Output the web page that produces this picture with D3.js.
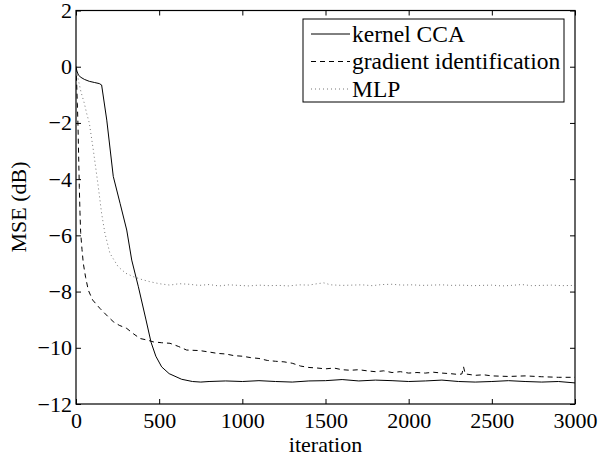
<!DOCTYPE html>
<html><head><meta charset="utf-8">
<script src="https://cdn.jsdelivr.net/npm/d3@7"></script>
<style>body{margin:0;background:#fff}svg{display:block}text{font-family:"Liberation Serif","Times New Roman",serif}</style>
</head><body>
<svg id="c" width="599" height="457"></svg>
<script>
const xTicks = [0,500,1000,1500,2000,2500,3000];
const yTicks = [-12,-10,-8,-6,-4,-2,0,2];
const seriesNames = ["kernel CCA","gradient identification","MLP"];

const kernelIter = [0,5,15,30,50,80,110,140,154,185,224,265,305,335,375,421,451,480,515,560,635,700,750,800,900,1000,1100,1200,1300,1400,1500,1600,1700,1800,1900,2000,2100,2200,2300,2400,2500,2600,2700,2800,2900,3000];
const kernelMSE  = [0,-0.15,-0.3,-0.38,-0.45,-0.52,-0.56,-0.6,-0.65,-1.9,-3.9,-4.86,-5.81,-6.88,-7.83,-9.01,-9.8,-10.3,-10.68,-10.92,-11.12,-11.2,-11.22,-11.2,-11.18,-11.2,-11.17,-11.2,-11.22,-11.18,-11.17,-11.13,-11.18,-11.15,-11.17,-11.2,-11.18,-11.15,-11.2,-11.22,-11.2,-11.17,-11.2,-11.22,-11.2,-11.25];

const gradIter = [0,4,8,12,16,20,24,28,36,44,58,74,100,144,194,224,260,305,345,385,425,465,515,565,615,665,745,800,850,900,950,1000,1050,1100,1150,1200,1250,1300,1350,1400,1450,1500,1550,1600,1650,1700,1750,1800,1850,1900,1950,2000,2050,2100,2150,2200,2250,2300,2320,2330,2340,2400,2450,2500,2600,2700,2800,2900,3000];
const gradMSE  = [0,-0.6,-1.3,-2.1,-3.2,-4.3,-5.2,-5.9,-6.5,-7.0,-7.5,-7.95,-8.3,-8.6,-8.9,-9.07,-9.2,-9.31,-9.5,-9.67,-9.72,-9.79,-9.82,-9.84,-9.95,-10.08,-10.1,-10.15,-10.2,-10.22,-10.28,-10.3,-10.35,-10.38,-10.45,-10.48,-10.5,-10.55,-10.65,-10.7,-10.72,-10.75,-10.72,-10.78,-10.8,-10.78,-10.82,-10.85,-10.82,-10.88,-10.85,-10.9,-10.88,-10.9,-10.87,-10.9,-10.92,-10.95,-10.93,-10.68,-10.93,-10.98,-10.96,-11.0,-11.02,-11.0,-11.03,-11.05,-11.05];

const mlpIter = [0,5,14,30,50,64,80,104,134,154,174,204,254,300,345,400,445,500,565,620,680,740,800,860,920,980,1040,1100,1160,1220,1280,1340,1400,1450,1490,1530,1600,1660,1720,1780,1840,1900,1960,2020,2080,2140,2200,2260,2320,2380,2440,2500,2560,2620,2680,2740,2800,2860,2920,3000];
const mlpMSE  = [0,-0.15,-0.47,-0.9,-1.3,-1.66,-2.0,-2.96,-4.27,-5.22,-5.93,-6.64,-7.12,-7.35,-7.47,-7.58,-7.65,-7.72,-7.77,-7.72,-7.74,-7.78,-7.75,-7.8,-7.76,-7.78,-7.8,-7.77,-7.79,-7.78,-7.8,-7.76,-7.77,-7.72,-7.69,-7.76,-7.78,-7.77,-7.76,-7.79,-7.75,-7.74,-7.77,-7.76,-7.78,-7.77,-7.76,-7.78,-7.77,-7.79,-7.78,-7.77,-7.8,-7.78,-7.75,-7.79,-7.78,-7.77,-7.79,-7.78];

const svg = d3.select("#c");
const L=76, R=575, T=10.5, B=404;
const x = d3.scaleLinear().domain([0,3000]).range([L,R]);
const y = d3.scaleLinear().domain([-12,2]).range([B,T]);
const fs = 22, lfs = 23.5;

const line = d3.line().x(d=>x(d[0])).y(d=>y(d[1]));
const series = [
  {name:seriesNames[0], data:d3.zip(kernelIter,kernelMSE), color:"#000", dash:null, w:1},
  {name:seriesNames[1], data:d3.zip(gradIter,gradMSE), color:"#000", dash:"5,4", w:1},
  {name:seriesNames[2], data:d3.zip(mlpIter,mlpMSE), color:"#777", dash:"1,3", w:1}
];
svg.append("clipPath").attr("id","pc").append("rect").attr("x",L).attr("y",T).attr("width",R-L).attr("height",B-T);
const g = svg.append("g").attr("clip-path","url(#pc)");
series.forEach(s=>{
  g.append("path").attr("d",line(s.data)).attr("fill","none").attr("stroke",s.color)
   .attr("stroke-width",s.w).attr("stroke-dasharray",s.dash);
});

function styleAxis(sel){ sel.select(".domain").remove(); sel.selectAll("line").attr("stroke","#000"); sel.selectAll("text").attr("font-family","Liberation Serif").attr("font-size",fs).attr("fill","#000"); }
svg.append("g").attr("transform",`translate(0,${B})`).call(d3.axisBottom(x).tickValues(xTicks).tickSize(-5).tickPadding(8).tickFormat(d3.format("d"))).call(styleAxis);
svg.append("g").attr("transform",`translate(0,${T})`).call(d3.axisTop(x).tickValues(xTicks).tickSize(-5).tickFormat("")).call(styleAxis);
svg.append("g").attr("transform",`translate(${L},0)`).call(d3.axisLeft(y).tickValues(yTicks).tickSize(-5).tickPadding(4)).call(styleAxis);
svg.append("g").attr("transform",`translate(${R},0)`).call(d3.axisRight(y).tickValues(yTicks).tickSize(-5).tickFormat("")).call(styleAxis);
svg.append("rect").attr("x",L).attr("y",T).attr("width",R-L).attr("height",B-T).attr("fill","none").attr("stroke","#000").attr("stroke-width",1.2);

svg.append("text").attr("x",(L+R)/2).attr("y",452).attr("text-anchor","middle").attr("font-size",fs).text("iteration");
svg.append("text").attr("transform","translate(26,207) rotate(-90)").attr("text-anchor","middle").attr("font-size",fs).text("MSE (dB)");

const lg = svg.append("g");
lg.append("rect").attr("x",303).attr("y",19).attr("width",261).attr("height",83).attr("fill","#fff").attr("stroke","#000").attr("stroke-width",1);
series.forEach((s,i)=>{
  const yy = 34 + i*27.5;
  lg.append("line").attr("x1",311).attr("x2",350).attr("y1",yy).attr("y2",yy).attr("stroke",s.color).attr("stroke-width",1).attr("stroke-dasharray",s.dash);
  lg.append("text").attr("x",352).attr("y",yy).attr("dy","0.33em").attr("font-size",lfs).text(s.name);
});
</script>
</body></html>
